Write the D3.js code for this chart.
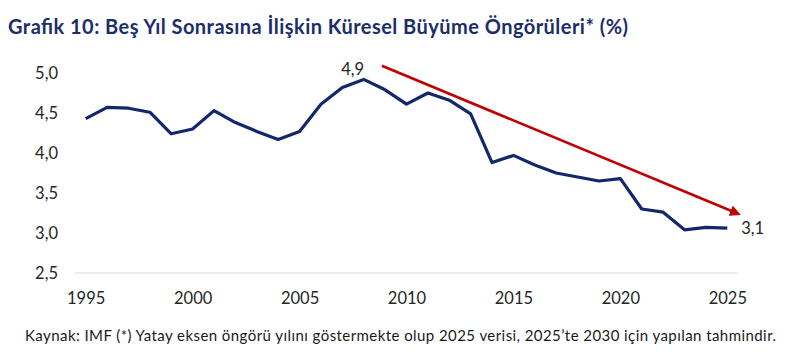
<!DOCTYPE html>
<html>

<head>
  <meta charset="utf-8">
  <title>Grafik 10</title>
  <style>
    body {
      margin: 0;
      background-color: #ffffff;
      font-family: 'Lato', sans-serif;
    }

    .title {
      font-weight: bold;
      fill: #1b2e6b;
    }

    .tick text {
      fill: #262626;
    }

    .line {
      fill: none;
      stroke: #14276a;
      stroke-width: 3.2px;
      stroke-linejoin: round;
    }

    .trend {
      stroke: #c00000;
      stroke-width: 2.6px;
    }
  </style>
</head>

<body>
  <div id="chart"></div>
  <script src="https://d3js.org/d3.v7.min.js"></script>

  <script>
    // Data
    var years = d3.range(1995, 2026);
    var growth = [4.43, 4.57, 4.56, 4.51, 4.24, 4.30, 4.53, 4.38, 4.27, 4.17,
      4.27, 4.61, 4.82, 4.92, 4.79, 4.61, 4.75, 4.66, 4.49, 3.88,
      3.97, 3.85, 3.75, 3.70, 3.65, 3.68, 3.30, 3.26, 3.04, 3.07, 3.06];
    var yTicks = [2.5, 3.0, 3.5, 4.0, 4.5, 5.0];
    var xTicks = [1995, 2000, 2005, 2010, 2015, 2020, 2025];
    // trend arrow (start / end in data units)
    var trendX = [2008.85, 2025.6];
    var trendY = [5.09, 3.23];
    var labels = [{ year: 2008, text: '4,9' }, { year: 2025, text: '3,1' }];

    var width = 800,
      height = 363;

    var svg = d3.select("#chart").append("svg")
      .attr("width", width)
      .attr("height", height);

    // category axis: each year sits in the middle of its slot
    var x = d3.scaleLinear().domain([1994.5, 2025.5]).range([75, 738]);
    var y = d3.scaleLinear().domain([2.5, 5.0]).range([273, 73]);

    svg.append("text")
      .attr("class", "title")
      .attr("x", 8)
      .attr("y", 34)
      .attr("textLength", 620)
      .attr("lengthAdjust", "spacing")
      .style("font-size", "20px")
      .text("Grafik 10: Beş Yıl Sonrasına İlişkin Küresel Büyüme Öngörüleri* (%)");

    // y axis labels only, no line
    var yAxis = svg.append("g")
      .attr("transform", "translate(58,0)")
      .call(d3.axisLeft(y).tickValues(yTicks).tickSize(0).tickPadding(0)
        .tickFormat(function(d) { return d3.format(".1f")(d).replace('.', ','); }));
    yAxis.select(".domain").remove();
    yAxis.selectAll("text").style("font-size", "16.5px").style("font-family", "Lato");

    // baseline
    svg.append("line")
      .attr("x1", x.range()[0])
      .attr("x2", x.range()[1])
      .attr("y1", y(2.5))
      .attr("y2", y(2.5))
      .attr("stroke", "#d9d9d9")
      .attr("stroke-width", 1.2);

    var xAxis = svg.append("g")
      .attr("transform", "translate(0," + y(2.5) + ")")
      .call(d3.axisBottom(x).tickValues(xTicks).tickSize(0).tickPadding(19)
        .tickFormat(d3.format("d")));
    xAxis.select(".domain").remove();
    xAxis.selectAll("text").style("font-size", "16.5px").style("font-family", "Lato");

    svg.append("path")
      .datum(years.map(function(d, i) { return [d, growth[i]]; }))
      .attr("class", "line")
      .attr("d", d3.line()
        .x(function(d) { return x(d[0]); })
        .y(function(d) { return y(d[1]); }));

    // red trend arrow
    svg.append("defs").append("marker")
      .attr("id", "head")
      .attr("viewBox", "0 0 10 10")
      .attr("refX", 2)
      .attr("refY", 5)
      .attr("markerWidth", 4.2)
      .attr("markerHeight", 4.2)
      .attr("orient", "auto")
      .append("path")
      .attr("d", "M0,0 L10,5 L0,10 Z")
      .attr("fill", "#c00000");

    var tx0 = x(trendX[0]), ty0 = y(trendY[0]), tx1 = x(trendX[1]), ty1 = y(trendY[1]);
    var len = Math.hypot(tx1 - tx0, ty1 - ty0);
    var back = 8;
    svg.append("line")
      .attr("class", "trend")
      .attr("x1", tx0)
      .attr("y1", ty0)
      .attr("x2", tx1 - (tx1 - tx0) / len * back)
      .attr("y2", ty1 - (ty1 - ty0) / len * back)
      .attr("marker-end", "url(#head)");

    // value labels
    svg.append("text")
      .attr("x", x(labels[0].year) - 11)
      .attr("y", y(growth[years.indexOf(labels[0].year)]) - 4)
      .attr("text-anchor", "middle")
      .style("font-size", "16.5px")
      .attr("fill", "#262626")
      .text(labels[0].text);

    svg.append("text")
      .attr("x", x(labels[1].year) + 14)
      .attr("y", y(growth[years.indexOf(labels[1].year)]) + 6)
      .attr("text-anchor", "start")
      .style("font-size", "16.5px")
      .attr("fill", "#262626")
      .text(labels[1].text);

    svg.append("text")
      .attr("x", 25)
      .attr("y", 341)
      .attr("textLength", 751)
      .attr("lengthAdjust", "spacing")
      .style("font-size", "15px")
      .attr("fill", "#1a1a1a")
      .text("Kaynak: IMF (*) Yatay eksen öngörü yılını göstermekte olup 2025 verisi, 2025’te 2030 için yapılan tahmindir.");
  </script>
</body>

</html>
